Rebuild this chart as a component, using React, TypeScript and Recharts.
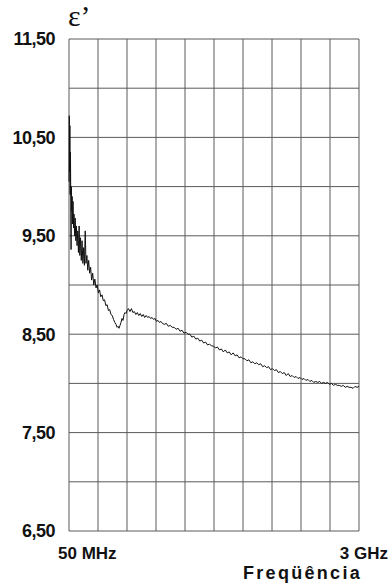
import { LineChart, Line, XAxis, YAxis, CartesianGrid } from "recharts";

// Permissividade relativa (ε') medida de 50 MHz a 3 GHz
const freqMHz = [
  50, 53, 56, 59, 62, 65, 68, 71, 74, 78, 82, 86, 91, 96, 101, 107, 113, 119, 125, 132,
  139, 146, 153, 160, 167, 175, 183, 191, 199, 207, 215, 223, 232, 241, 250, 260, 270, 280, 291, 302,
  313, 325, 337, 349, 361, 373, 386, 399, 412, 425, 438, 451, 464, 477, 490, 503, 516, 529, 539, 549,
  559, 569, 579, 589, 599, 610, 620, 630, 640, 655, 670, 685, 700, 715, 730, 745, 760, 775, 790, 805,
  820, 835, 850, 865, 880, 895, 910, 925, 940, 955, 970, 985, 1000, 1020, 1040, 1060, 1080, 1100, 1120, 1140,
  1160, 1180, 1200, 1220, 1240, 1260, 1280, 1300, 1320, 1340, 1360, 1380, 1400, 1420, 1440, 1460, 1480, 1500, 1520, 1540,
  1560, 1580, 1600, 1620, 1640, 1660, 1680, 1700, 1720, 1740, 1760, 1780, 1800, 1820, 1840, 1860, 1880, 1900, 1920, 1940,
  1960, 1980, 2000, 2020, 2040, 2060, 2080, 2100, 2120, 2140, 2160, 2180, 2200, 2220, 2240, 2260, 2280, 2300, 2320, 2340,
  2360, 2380, 2400, 2420, 2440, 2460, 2480, 2500, 2520, 2540, 2560, 2580, 2600, 2620, 2640, 2660, 2680, 2700, 2720, 2740,
  2760, 2780, 2800, 2820, 2840, 2860, 2880, 2900, 2920, 2940, 2960, 2980, 3000,
];

const epsilon = [
  10.05, 10.72, 10.15, 10.62, 9.92, 10.35, 9.85, 9.36, 10.0, 9.75, 9.9, 9.62, 9.85, 9.58, 9.72, 9.5, 9.68, 9.45, 9.6, 9.4,
  9.55, 9.33, 9.6, 9.3, 9.48, 9.25, 9.45, 9.22, 9.38, 9.2, 9.55, 9.22, 9.3, 9.15, 9.25, 9.12, 9.18, 9.05, 9.12, 9.0,
  9.06, 8.97, 9.0, 8.92, 8.95, 8.88, 8.9, 8.84, 8.85, 8.79, 8.8, 8.74, 8.75, 8.7, 8.69, 8.65, 8.62, 8.6, 8.57, 8.58,
  8.56, 8.59, 8.62, 8.66, 8.64, 8.7, 8.72, 8.71, 8.74, 8.76, 8.73, 8.76, 8.72, 8.73, 8.7, 8.72, 8.69, 8.71, 8.68, 8.7,
  8.67, 8.69, 8.67, 8.68, 8.66, 8.67, 8.65, 8.66, 8.63, 8.64, 8.62, 8.63, 8.61, 8.6, 8.61, 8.58, 8.59, 8.57, 8.57, 8.55,
  8.56, 8.53, 8.54, 8.51, 8.52, 8.5, 8.5, 8.47, 8.48, 8.45, 8.46, 8.43, 8.44, 8.41, 8.42, 8.39, 8.4, 8.38, 8.38, 8.36,
  8.37, 8.34, 8.35, 8.32, 8.34, 8.31, 8.32, 8.29, 8.31, 8.28, 8.29, 8.26, 8.27, 8.25, 8.25, 8.23, 8.24, 8.21, 8.22, 8.2,
  8.21, 8.19, 8.2, 8.17, 8.18, 8.16, 8.17, 8.14, 8.15, 8.13, 8.14, 8.11, 8.12, 8.1, 8.11, 8.08, 8.1, 8.07, 8.08, 8.06,
  8.07, 8.05, 8.06, 8.04, 8.05, 8.03, 8.04, 8.02, 8.03, 8.01, 8.02, 8.01, 8.02, 8.0, 8.01, 8.0, 8.01, 7.99, 8.0, 7.98,
  7.99, 7.98, 7.98, 7.97, 7.98, 7.96, 7.97, 7.96, 7.96, 7.95, 7.97, 7.96, 7.97,
];

const xTicks = [50, 345, 640, 935, 1230, 1525, 1820, 2115, 2410, 2705, 3000];
const xTickLabels: Record<number, string> = { 50: "50 MHz", 3000: "3 GHz" };
const yTicks = [6.5, 7, 7.5, 8, 8.5, 9, 9.5, 10, 10.5, 11, 11.5];

const data = freqMHz.map((f, i) => ({ f, v: epsilon[i] }));

const labelFont = "'Liberation Sans', Arial, sans-serif";

function YTick({ x, y, payload }: any) {
  const v = payload.value as number;
  // só os valores x,50 levam rótulo
  if (Math.abs(v - Math.floor(v) - 0.5) > 0.01) return null;
  return (
    <text x={x - 12} y={y} dy="0.36em" textAnchor="end" fontFamily={labelFont} fontWeight="bold" fontSize={18} fill="#111" letterSpacing={-0.5}>
      {v.toFixed(2).replace(".", ",")}
    </text>
  );
}

function XTick({ x, y, payload }: any) {
  const label = xTickLabels[payload.value];
  if (!label) return null;
  const isLast = payload.value === 3000;
  return (
    <text x={isLast ? x + 29 : x - 11} y={y + 26} textAnchor={isLast ? "end" : "start"} fontFamily={labelFont} fontWeight="bold" fontSize={17} fill="#111">
      {label}
    </text>
  );
}

export default function App() {
  return (
    <div style={{ position: "absolute", left: 0, top: 0, width: 390, height: 587, background: "#fff" }}>
      <LineChart width={390} height={587} data={data} margin={{ top: 39, right: 31, left: 0, bottom: 0 }}>
        <CartesianGrid stroke="#5a5a5a" strokeWidth={1} />
        <XAxis
          dataKey="f"
          type="number"
          domain={[50, 3000]}
          ticks={xTicks}
          interval={0}
          height={56}
          axisLine={false}
          tickLine={false}
          tickSize={0}
          tick={<XTick />}
        />
        <YAxis
          type="number"
          domain={[6.5, 11.5]}
          ticks={yTicks}
          interval={0}
          width={69}
          axisLine={false}
          tickLine={false}
          tickSize={0}
          tick={<YTick />}
        />
        <Line dataKey="v" type="linear" stroke="#111" strokeWidth={1} dot={false} isAnimationActive={false} />
      </LineChart>
      <div style={{ position: "absolute", left: 68, top: -4, fontFamily: "'Liberation Serif', 'Times New Roman', serif", fontSize: 30, color: "#111", lineHeight: "40px" }}>
        ε’
      </div>
      <div style={{ position: "absolute", left: 243, top: 562, fontFamily: labelFont, fontWeight: "bold", fontSize: 18, letterSpacing: 2.3, color: "#111", lineHeight: "22px" }}>
        Freqüência
      </div>
    </div>
  );
}
